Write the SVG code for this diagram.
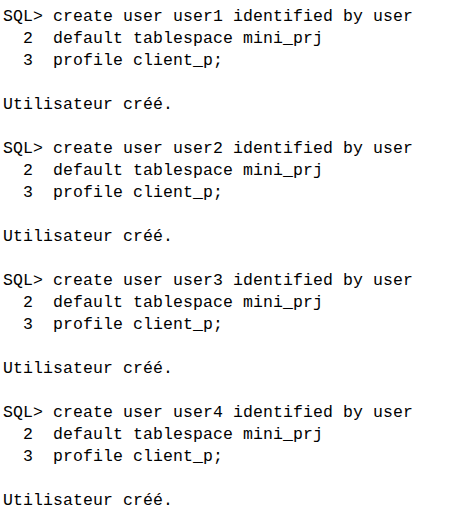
<svg xmlns="http://www.w3.org/2000/svg" width="450" height="519" viewBox="0 0 450 519">
<style>
text { font-family: "Liberation Mono", "DejaVu Sans Mono", monospace; font-size: 16.5px; fill: #000; white-space: pre; }
</style>
<rect width="450" height="519" fill="#fff"/>
<g id="block1" xml:space="preserve">
<text x="3" y="21" textLength="410" lengthAdjust="spacing">SQL&gt; create user user1 identified by user</text>
<text x="3" y="43" textLength="320" lengthAdjust="spacing">  2  default tablespace mini_prj</text>
<text x="3" y="65" textLength="220" lengthAdjust="spacing">  3  profile client_p;</text>
<text x="3" y="109" textLength="170" lengthAdjust="spacing">Utilisateur créé.</text>
</g>
<g id="block2" xml:space="preserve">
<text x="3" y="153" textLength="410" lengthAdjust="spacing">SQL&gt; create user user2 identified by user</text>
<text x="3" y="175" textLength="320" lengthAdjust="spacing">  2  default tablespace mini_prj</text>
<text x="3" y="197" textLength="220" lengthAdjust="spacing">  3  profile client_p;</text>
<text x="3" y="241" textLength="170" lengthAdjust="spacing">Utilisateur créé.</text>
</g>
<g id="block3" xml:space="preserve">
<text x="3" y="285" textLength="410" lengthAdjust="spacing">SQL&gt; create user user3 identified by user</text>
<text x="3" y="307" textLength="320" lengthAdjust="spacing">  2  default tablespace mini_prj</text>
<text x="3" y="329" textLength="220" lengthAdjust="spacing">  3  profile client_p;</text>
<text x="3" y="373" textLength="170" lengthAdjust="spacing">Utilisateur créé.</text>
</g>
<g id="block4" xml:space="preserve">
<text x="3" y="417" textLength="410" lengthAdjust="spacing">SQL&gt; create user user4 identified by user</text>
<text x="3" y="439" textLength="320" lengthAdjust="spacing">  2  default tablespace mini_prj</text>
<text x="3" y="461" textLength="220" lengthAdjust="spacing">  3  profile client_p;</text>
<text x="3" y="505" textLength="170" lengthAdjust="spacing">Utilisateur créé.</text>
</g>
</svg>
